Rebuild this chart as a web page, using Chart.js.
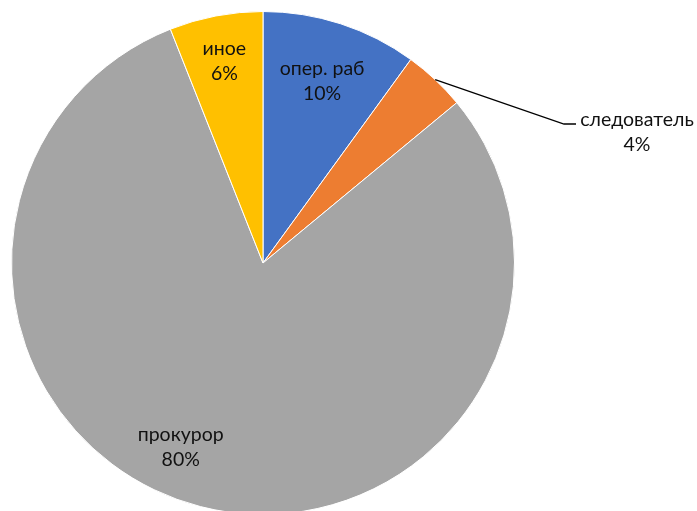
<!DOCTYPE html>
<html>
<head>
<meta charset="utf-8">
<script src="https://cdn.jsdelivr.net/npm/chart.js@4.4.0/dist/chart.umd.min.js"></script>
<style>
  html, body { margin: 0; padding: 0; background: #fff; overflow: hidden; }
  .wrap { position: relative; width: 697px; height: 530px; }
</style>
</head>
<body>
<div class="wrap"><canvas id="pie"></canvas></div>
<script>
// data
const categories = ['опер. раб', 'следователь', 'прокурор', 'иное'];
const shares = [10, 4, 80, 6];
const colors = ['#4472C4', '#ED7D31', '#A5A5A5', '#FFC000'];

const FONT = '19.5px Lato, "Liberation Sans", sans-serif';

// labels: inside ones sit at a fraction of the radius, the small slice gets a leader line
const labelPlugin = {
  id: 'sliceLabels',
  afterDatasetsDraw(chart) {
    const ctx = chart.ctx;
    const meta = chart.getDatasetMeta(0);
    const total = shares.reduce((a, b) => a + b, 0);
    ctx.save();
    ctx.font = FONT;
    ctx.fillStyle = '#111';
    ctx.textAlign = 'center';
    ctx.textBaseline = 'middle';
    meta.data.forEach((arc, i) => {
      const { x, y, startAngle, endAngle, outerRadius } = arc.getProps(['x', 'y', 'startAngle', 'endAngle', 'outerRadius'], true);
      const mid = (startAngle + endAngle) / 2;
      const pct = Math.round(shares[i] / total * 100) + '%';
      if (i === 1) {
        // outside label with leader line
        const ex = x + Math.cos(mid) * outerRadius;
        const ey = y + Math.sin(mid) * outerRadius;
        ctx.beginPath();
        ctx.strokeStyle = '#000';
        ctx.lineWidth = 1.3;
        ctx.moveTo(ex, ey);
        ctx.lineTo(564, 124);
        ctx.lineTo(576, 124);
        ctx.stroke();
        ctx.fillText(categories[i], 637, 120);
        ctx.fillText(pct, 637, 145);
        return;
      }
      let r = outerRadius * 0.76, a = mid;
      if (i === 2) { r = outerRadius * 0.8; a = mid + 0.17; }
      if (i === 3) { r = outerRadius * 0.82; }
      const lx = x + Math.cos(a) * r;
      const ly = y + Math.sin(a) * r;
      ctx.fillText(categories[i], lx, ly - 12);
      ctx.fillText(pct, lx, ly + 13);
    });
    ctx.restore();
  }
};

new Chart(document.getElementById('pie'), {
  type: 'pie',
  data: {
    labels: categories,
    datasets: [{
      data: shares,
      backgroundColor: colors,
      borderColor: '#fff',
      borderWidth: 1,
    }],
  },
  options: {
    responsive: true,
    maintainAspectRatio: false,
    animation: false,
    layout: { padding: { left: 11, right: 182, top: 11, bottom: 15 } },
    plugins: {
      legend: { display: false },
      tooltip: { enabled: false },
    },
  },
  plugins: [labelPlugin],
});
</script>
</body>
</html>
